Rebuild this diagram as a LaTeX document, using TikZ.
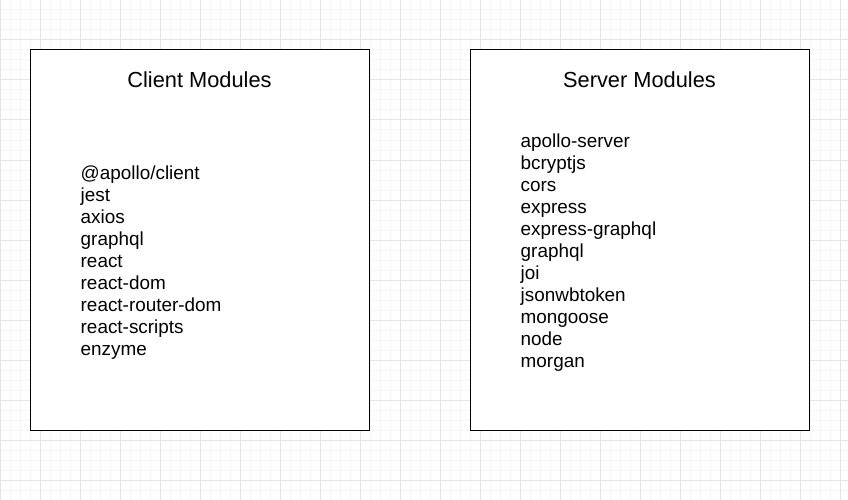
\documentclass[tikz,border=0pt]{standalone}
\usepackage{fontspec}
\setmainfont{Liberation Sans}
\usetikzlibrary{positioning}
\definecolor{gridminor}{RGB}{245,245,245}
\definecolor{gridmajor}{RGB}{228,228,228}

\begin{document}
\begin{tikzpicture}[x=1pt,y=-1pt,
    modbox/.style={draw=black,line width=1pt,fill=white,minimum width=339pt,minimum height=380pt,inner sep=0pt},
    modtitle/.style={inner sep=0pt,anchor=base,font=\fontsize{21.8}{26}\selectfont},
    moditem/.style={inner sep=0pt,anchor=base west,font=\fontsize{18.9}{22}\selectfont}]
    \useasboundingbox (0,0) rectangle (848,500);
    \fill[white] (0,0) rectangle (848,500);
    % background grid
    \foreach \x in {0,10,...,840} \draw[gridminor,line width=1pt] (\x,0) -- (\x,500);
    \foreach \y in {0,10,...,500} \draw[gridminor,line width=1pt] (0,\y) -- (848,\y);
    \foreach \x in {0,40,...,840} \draw[gridmajor,line width=1pt] (\x,0) -- (\x,500);
    \foreach \y in {0,40,...,480} \draw[gridmajor,line width=1pt] (0,\y) -- (848,\y);
    % module boxes
    \node[modbox] (client) at (199.5,240) {};
    \node[modbox] (server) at (639.5,240) {};
    \node[modtitle] (clienttitle) at (199.5,88) {Client Modules};
    \node[modtitle] (servertitle) at (639.5,88) {Server Modules};
    \foreach \m [count=\i] in {@apollo/client,jest,axios,graphql,react,react-dom,react-router-dom,react-scripts,enzyme}
      \node[moditem] (c\i) at (80.5,{179+22*(\i-1)}) {\m};
    \foreach \m [count=\i] in {apollo-server,bcryptjs,cors,express,express-graphql,graphql,joi,jsonwbtoken,mongoose,node,morgan}
      \node[moditem] (s\i) at (520.5,{147+22*(\i-1)}) {\m};
\end{tikzpicture}
\end{document}
